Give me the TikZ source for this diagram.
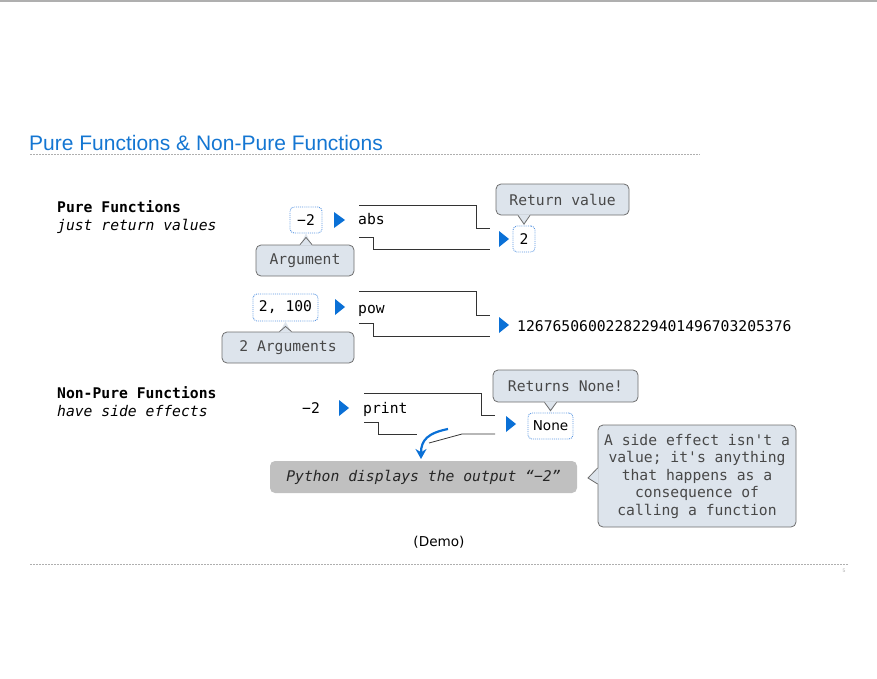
\documentclass[tikz,border=0pt]{standalone}
\usepackage{fontspec}
\setmainfont{Liberation Sans}
\setmonofont{DejaVu Sans Mono}
\newfontfamily\demofont{DejaVu Sans}
\usetikzlibrary{arrows.meta}
\definecolor{titleblue}{RGB}{20,118,210}
\definecolor{triblue}{RGB}{10,112,214}
\definecolor{dotblue}{RGB}{90,150,225}
\definecolor{callfill}{RGB}{221,228,236}
\definecolor{callline}{RGB}{110,110,110}
\definecolor{calltext}{RGB}{72,72,72}
\definecolor{greybox}{RGB}{192,192,192}
\definecolor{rulegrey}{RGB}{175,175,175}
\newcommand{\mono}{\ttfamily\fontsize{14.7}{17.5}\selectfont}
\tikzset{
  valbox/.style={draw=dotblue,densely dotted,line width=0.9pt,rounded corners=4pt,
    inner sep=0pt,font=\mono},
  callbox/.style={draw=callline,fill=callfill,line width=0.8pt,rounded corners=5pt,
    inner sep=0pt,text=calltext,font=\mono},
  fnline/.style={draw=black!80,line width=0.8pt},
  txtlab/.style={inner sep=0pt,font=\mono,anchor=base west},
  tri/.style={fill=triblue},
}
\begin{document}
\begin{tikzpicture}[x=1pt,y=-1pt]
  \useasboundingbox (0,0) rectangle (877,679);
  \draw[rulegrey,line width=1.6pt] (0,0.8) -- (877,0.8);
  % title
  \node[anchor=base west,inner sep=0pt,text=titleblue,font=\fontsize{21}{24}\selectfont] (title) at (29,150) {Pure Functions \& Non-Pure Functions};
  \draw[rulegrey,line width=0.8pt,dash pattern=on 1.5pt off 1.5pt] (30,154.5) -- (700,154.5);
  % left labels
  \node[txtlab] (pure) at (57,212) {\bfseries Pure Functions};
  \node[txtlab] (pureinfo) at (57,230) {\itshape just return values};
  \node[txtlab] (nonpure) at (57,398) {\bfseries Non-Pure Functions};
  \node[txtlab] (nonpureinfo) at (57,416) {\itshape have side effects};

  % abs
  \node[valbox,minimum width=32pt,minimum height=26pt] (absarg) at (306,220) {−2};
  \fill[tri] (334,212) -- (345,220) -- (334,228) -- cycle;
  \node[txtlab] (abs) at (358,224) {abs};
  \draw[fnline] (359,205) -| (476,228) -- (490,228);
  \draw[fnline] (359,237) -| (373,249) -- (490,249);
  \fill[tri] (499,231) -- (509,239) -- (499,247) -- cycle;
  \node[valbox,minimum width=22pt,minimum height=26pt] (absout) at (524,239) {2};

  % pow
  \node[valbox,minimum width=65pt,minimum height=27pt] (powarg) at (285.5,307.5) {2, 100};
  \fill[tri] (335,299) -- (345,307) -- (335,315) -- cycle;
  \node[txtlab] (pow) at (358,313) {pow};
  \draw[fnline] (359,291) -| (476,315) -- (490,315);
  \draw[fnline] (359,323) -| (373,336) -- (490,336);
  \fill[tri] (499,317) -- (509,325) -- (499,333) -- cycle;
  \node[txtlab] (powout) at (517,331) {1267650600228229401496703205376};

  % print
  \node[txtlab] (printarg) at (302,413) {−2};
  \fill[tri] (339,400) -- (349,408) -- (339,416) -- cycle;
  \node[txtlab] (print) at (363,413) {print};
  \draw[fnline] (364,393) -| (481,415) -- (495,415);
  \draw[fnline] (364,422) -| (378,434) -- (417,434);
  \draw[fnline] (429,443) -- (462,434) -- (495,434);
  \fill[tri] (506,416) -- (516,424) -- (506,432) -- cycle;
  \node[valbox,minimum width=45pt,minimum height=26pt,font=\demofont\fontsize{13.6}{16}\selectfont] (printout) at (550.5,426) {None};

  % output
  \node[fill=greybox,rounded corners=5pt,minimum width=307pt,minimum height=32pt,inner sep=0pt,
    text=black!85,font=\mono\itshape] (shown) at (423.5,477) {Python displays the output “−2”};
  \coordinate (swing) at (448,429);
  \coordinate (swingend) at (421,459);
  \draw[triblue,line width=2.2pt,-{Stealth[length=10pt,width=11pt]}] (swing) .. controls (428,433) and (421,440) .. (swingend);

  % callouts
  \node[callbox,minimum width=133pt,minimum height=31pt] (retcall) at (562.5,199.5) {Return value};
  \fill[callfill] ([xshift=-6pt,yshift=1pt]retcall.south -| absout.north) -- (absout.north) -- ([xshift=6pt,yshift=1pt]retcall.south -| absout.north) -- cycle;
  \draw[callline,line width=0.8pt] ([xshift=-6pt]retcall.south -| absout.north) -- ([yshift=1.5pt]absout.north) -- ([xshift=6pt]retcall.south -| absout.north);

  \node[callbox,minimum width=98pt,minimum height=31pt] (argcall) at (305,260.5) {Argument};
  \fill[callfill] ([xshift=-6pt,yshift=-1pt]argcall.north -| absarg.south) -- (absarg.south) -- ([xshift=6pt,yshift=-1pt]argcall.north -| absarg.south) -- cycle;
  \draw[callline,line width=0.8pt] ([xshift=-6pt]argcall.north -| absarg.south) -- ([yshift=-4pt]absarg.south) -- ([xshift=6pt]argcall.north -| absarg.south);

  \node[callbox,minimum width=132pt,minimum height=31pt] (argscall) at (288,347.5) {2 Arguments};
  \fill[callfill] ([xshift=-6pt,yshift=-1pt]argscall.north -| powarg.south) -- (powarg.south) -- ([xshift=6pt,yshift=-1pt]argscall.north -| powarg.south) -- cycle;
  \draw[callline,line width=0.8pt] ([xshift=-6pt]argscall.north -| powarg.south) -- ([yshift=-5pt]powarg.south) -- ([xshift=6pt]argscall.north -| powarg.south);

  \node[callbox,minimum width=145pt,minimum height=32pt] (nonecall) at (565.5,386) {Returns None!};
  \fill[callfill] ([xshift=-6pt,yshift=1pt]nonecall.south -| printout.north) -- (printout.north) -- ([xshift=6pt,yshift=1pt]nonecall.south -| printout.north) -- cycle;
  \draw[callline,line width=0.8pt] ([xshift=-6pt]nonecall.south -| printout.north) -- ([yshift=2pt]printout.north) -- ([xshift=6pt]nonecall.south -| printout.north);

  \node[callbox,minimum width=198pt,minimum height=102pt,align=center] (sidecall) at (697,476)
    {A side effect isn't a\\value; it's anything\\that happens as a\\consequence of\\calling a function};
  \coordinate (sidetip) at (588,478);
  \fill[callfill] ([yshift=8pt,xshift=1pt]sidecall.west) -- (sidetip) -- ([yshift=-8pt,xshift=1pt]sidecall.west) -- cycle;
  \draw[callline,line width=0.8pt] ([yshift=8pt]sidecall.west) -- (sidetip) -- ([yshift=-8pt]sidecall.west);

  % footer
  \node[inner sep=0pt,font=\demofont\fontsize{13.6}{16}\selectfont] (demo) at (439,542) {(Demo)};
  \draw[rulegrey,line width=0.8pt,dash pattern=on 1.5pt off 1.5pt] (30,564.5) -- (848,564.5);
  \node[inner sep=0pt,text=rulegrey,font=\fontsize{5}{6}\selectfont] (page) at (844,571) {5};
\end{tikzpicture}
\end{document}
